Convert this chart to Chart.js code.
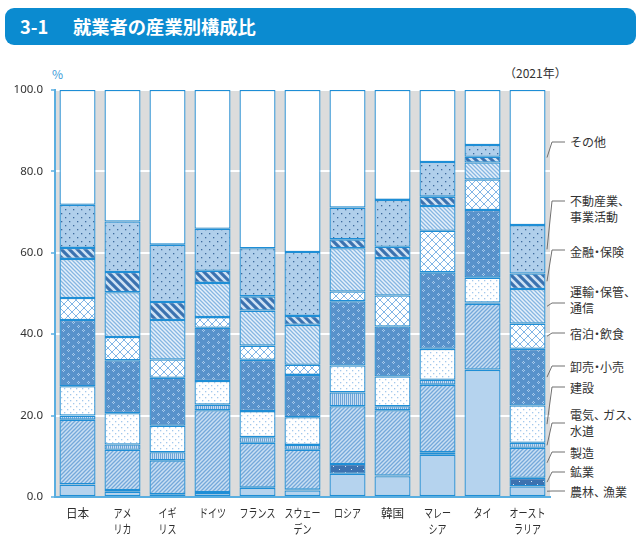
<!DOCTYPE html>
<html><head><meta charset="utf-8">
<script src="https://cdn.jsdelivr.net/npm/chart.js@4"></script>
<style>
html,body{margin:0;padding:0;background:#fff;}
#wrap{position:relative;width:641px;height:541px;font-family:"Noto Sans CJK JP","Noto Sans",sans-serif;color:#333;}
#banner{position:absolute;left:5px;top:8px;width:631px;height:37px;background:#0b8bd0;border-radius:9px;}
#banner span{position:absolute;top:5px;color:#fff;font-weight:bold;font-size:18.3px;line-height:26px;white-space:nowrap;}
.t{position:absolute;font-size:12px;line-height:16px;white-space:nowrap;}
#cv{position:absolute;left:0;top:0;}
</style></head>
<body><div id="wrap">
<div id="banner"><span style="left:15px;">3-1</span><span style="left:68px;">就業者の産業別構成比</span></div>
<div class="t" style="left:52px;top:66px;color:#3d9ad8;">%</div>
<div class="t" style="left:504px;top:65px;">（2021年）</div>
<div id="labels"></div>
<canvas id="cv" width="641" height="541"></canvas>
</div>
<script>
const categories = ['日本', ['アメ','リカ'], ['イギ','リス'], 'ドイツ', 'フランス', ['スウェー','デン'], 'ロシア', '韓国', ['マレー','シア'], 'タイ', ['オースト','ラリア']];
const seriesNames = ['農林、漁業','鉱業','製造','電気、ガス、水道','建設','卸売・小売','宿泊・飲食','運輸・保管、通信','金融・保険','不動産業、事業活動','その他'];
const agri       = [3.0, 1.3, 0.5, 1.0, 2.2, 1.6, 5.7, 5.1, 10.4, 31.2, 2.6];
const mining     = [0.1, 0.4, 0.2, 0.2, 0.1, 0.2, 2.4, 0.2, 0.6, 0.1, 2.1];
const manuf      = [15.9, 9.9, 8.3, 20.1, 11.0, 9.8, 14.2, 16.0, 16.6, 16.2, 7.4];
const util       = [1.0, 1.3, 2.0, 1.4, 1.4, 1.2, 3.4, 1.0, 1.2, 0.3, 1.2];
const constr     = [7.2, 7.7, 6.5, 5.8, 6.4, 6.8, 6.6, 7.3, 7.6, 6.1, 9.2];
const trade      = [16.3, 13.0, 11.8, 13.1, 12.6, 10.4, 15.8, 12.3, 18.8, 16.6, 13.9];
const hotel      = [5.4, 5.7, 4.5, 2.6, 3.5, 2.5, 2.4, 7.6, 10.2, 7.5, 6.2];
const transport  = [9.6, 11.0, 9.7, 8.4, 8.6, 9.8, 10.6, 9.2, 6.1, 4.2, 8.5];
const finance    = [2.7, 5.0, 4.4, 3.0, 3.5, 2.2, 2.2, 2.8, 2.3, 1.4, 3.8];
const realestate = [10.6, 12.4, 14.1, 10.3, 11.8, 15.7, 7.8, 11.5, 8.5, 2.9, 11.9];
const other      = [28.2, 32.3, 38.0, 34.1, 38.9, 39.8, 28.9, 27.0, 17.7, 13.5, 33.2];
const yTicks = [0, 20, 40, 60, 80, 100];
const sideLabels = [['農林、漁業'],['鉱業'],['製造'],['電気、ガス、','水道'],['建設'],['卸売・小売'],['宿泊・飲食'],['運輸・保管、','通信'],['金融・保険'],['不動産業、','事業活動'],['その他']];

// layout for side labels (positions only)
const labelTop = [484, 464, 445, 407, 380, 359, 326, 284, 244, 193, 134];
const anchorY  = [491, 472, 452, 423, 387, 366, 333, 303, 250, 201, 142];

const lab = document.getElementById('labels');
sideLabels.forEach((l,i)=>{
  const d=document.createElement('div'); d.className='t';
  d.style.left='570px'; d.style.top=labelTop[i]+'px'; d.style.fontSize='12px';
  d.innerHTML=l.map(s=>s.replace(/、/g,'<span style="letter-spacing:-3px">、</span>').replace(/・/g,'<span style="margin-left:-3px;letter-spacing:-3px">・</span>')).join('<br>'); lab.appendChild(d);
});

function tile(w,h,draw){const c=document.createElement('canvas');c.width=w;c.height=h;const g=c.getContext('2d');draw(g);return document.createElement('canvas').getContext('2d').createPattern(c,'repeat');}
const pats = [
  '#b5d3ee',
  tile(12,6,g=>{g.fillStyle='#3c72b0';g.fillRect(0,0,12,6);g.fillStyle='#d6e7f7';g.fillRect(3,1,1,1);g.fillRect(9,4,1,1);}),
  tile(4,4,g=>{g.fillStyle='#c9dff3';g.fillRect(0,0,4,4);g.strokeStyle='#74a8da';g.lineWidth=1.3;g.beginPath();g.moveTo(-1,5);g.lineTo(5,-1);g.moveTo(-1,1);g.lineTo(1,-1);g.moveTo(3,5);g.lineTo(5,3);g.stroke();}),
  tile(2,2,g=>{g.fillStyle='#c6ddf2';g.fillRect(0,0,2,2);g.fillStyle='#6ea4d8';g.fillRect(0,0,1,2);}),
  tile(6,6,g=>{g.fillStyle='#ffffff';g.fillRect(0,0,6,6);g.fillStyle='#a3c8ec';g.fillRect(1,1,1.3,1.3);g.fillRect(4,4,1.3,1.3);}),
  tile(10,8,g=>{g.fillStyle='#5892cb';g.fillRect(0,0,10,8);g.fillStyle='#aacbec';g.fillRect(3,1,1,1);g.fillRect(2,2,1,1);g.fillRect(3,3,1,1);g.fillRect(4,2,1,1);g.fillRect(8,5,1,1);g.fillRect(7,6,1,1);g.fillRect(8,7,1,1);g.fillRect(9,6,1,1);}),
  tile(8,8,g=>{g.fillStyle='#ffffff';g.fillRect(0,0,8,8);g.strokeStyle='#82b5e6';g.lineWidth=1;g.beginPath();g.moveTo(0,0);g.lineTo(8,8);g.moveTo(8,0);g.lineTo(0,8);g.stroke();}),
  tile(4,4,g=>{g.fillStyle='#e6f0fa';g.fillRect(0,0,4,4);g.strokeStyle='#86b6e2';g.lineWidth=1.3;g.beginPath();g.moveTo(-1,-1);g.lineTo(5,5);g.moveTo(3,-1);g.lineTo(5,1);g.moveTo(-1,3);g.lineTo(1,5);g.stroke();}),
  tile(8,8,g=>{g.fillStyle='#3b72b0';g.fillRect(0,0,8,8);g.strokeStyle='#cfe2f4';g.lineWidth=2.6;g.beginPath();g.moveTo(-2,-2);g.lineTo(10,10);g.moveTo(6,-2);g.lineTo(10,2);g.moveTo(-2,6);g.lineTo(2,10);g.stroke();}),
  tile(8,8,g=>{g.fillStyle='#b0cfeb';g.fillRect(0,0,8,8);g.fillStyle='#3d6a9c';g.fillRect(1,1,1.3,1.3);g.fillRect(5,5,1.3,1.3);}),
  '#ffffff'
];
const seriesData = [agri, mining, manuf, util, constr, trade, hotel, transport, finance, realestate, other];

const bgPlugin = {id:'bg', beforeDraw(c){const a=c.chartArea,x=c.ctx;x.save();x.fillStyle='#dcdcdc';x.fillRect(a.left,a.top,a.right-a.left,a.bottom-a.top);x.restore();}};
const leaderPlugin = {id:'leader', afterDraw(c){const x=c.ctx;x.save();x.strokeStyle='#707070';x.lineWidth=1;
  c.data.datasets.forEach((d,i)=>{const el=c.getDatasetMeta(i).data[10];const ys=(el.y+el.base)/2;const x0=el.x+el.width/2+1.5;
    x.beginPath();x.moveTo(x0,ys);x.lineTo(x0+5,anchorY[i]);x.lineTo(565,anchorY[i]);x.stroke();});
  x.restore();}};
// x labels: proportional katakana (narrower) via fillText maxWidth
const xLabelPlugin = {id:'xlab', afterDraw(c){const x=c.ctx,s=c.scales.x;x.save();x.fillStyle='#2e2e2e';x.font='12px "Noto Sans CJK JP"';x.textAlign='center';x.textBaseline='middle';
  c.data.labels.forEach((l,i)=>{const lines=Array.isArray(l)?l:[l];const cx=s.getPixelForValue(i);
    lines.forEach((t,j)=>{let w=0;for(const ch of t){w+=/[\u30A0-\u30FF]/.test(ch)?9:11.6;}x.fillText(t,cx,513+j*16.5,w);});});
  x.restore();}};

new Chart(document.getElementById('cv'), {
  type:'bar',
  data:{labels:categories, datasets:seriesData.map((d,i)=>({label:seriesNames[i],data:d,backgroundColor:pats[i],borderColor:'#1e8ed6',borderWidth:1.3,borderSkipped:false}))},
  options:{responsive:false,animation:false,devicePixelRatio:1,
    layout:{padding:{top:90,right:91,left:0,bottom:0}},
    plugins:{legend:{display:false},tooltip:{enabled:false}},
    datasets:{bar:{categoryPercentage:0.8,barPercentage:1}},
    scales:{
      x:{stacked:true,grid:{display:false,drawTicks:false},border:{color:'#5aaee0',width:2},
         ticks:{display:false},
         afterFit(s){s.height=44;}},
      y:{stacked:true,min:0,max:100,afterBuildTicks(s){s.ticks=yTicks.map(v=>({value:v}));},
         grid:{color:'#ffffff',lineWidth:2,tickColor:'#5aaee0',tickLength:4,tickWidth:1.5},
         border:{color:'#5aaee0',width:2},
         ticks:{padding:8,color:'#333',font:{size:11.5,family:'"Noto Sans",sans-serif'},callback:v=>v.toFixed(1)},
         afterFit(s){s.width=55;}}
    }
  },
  plugins:[bgPlugin,leaderPlugin,xLabelPlugin]
});
</script>
</body></html>
